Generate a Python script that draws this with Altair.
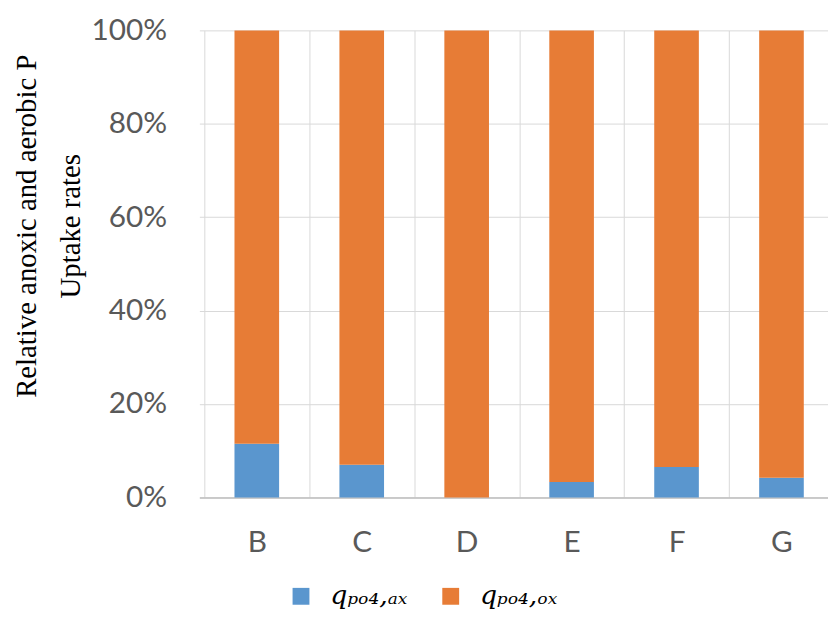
import json
import altair as alt
import pandas as pd

categories = ["B", "C", "D", "E", "F", "G"]
series_names = ["q\u209a\u2092\u2084,\u2090\u2093", "q\u209a\u2092\u2084,\u2092\u2093"]
anoxic_share = [0.115, 0.070, 0.0, 0.033, 0.065, 0.042]
aerobic_share = [0.885, 0.930, 1.0, 0.967, 0.935, 0.958]
y_ticks = [0, 0.2, 0.4, 0.6, 0.8, 1.0]
colors = ["#5A96CE", "#E77C36"]

n = len(categories)
rows = []
for i, (c, a, o) in enumerate(zip(categories, anoxic_share, aerobic_share)):
    rows.append({"cat": c, "pos": i + 0.5, "series": series_names[0], "value": a, "ord": 0})
    rows.append({"cat": c, "pos": i + 0.5, "series": series_names[1], "value": o, "ord": 1})
df = pd.DataFrame(rows)

x_values = [k / 2 for k in range(2 * n + 1)]
label_expr = "datum.value % 1 == 0 ? '' : " + json.dumps(categories) + "[floor(datum.value)]"

chart = alt.Chart(df).mark_bar(size=45).encode(
    x=alt.X(
        "pos:Q",
        scale=alt.Scale(domain=[0, n], range=[0, 645], nice=False, zero=False),
        axis=alt.Axis(
            title=None,
            values=x_values,
            labelExpr=label_expr,
            labelAngle=0,
            labelFont="Lato",
            labelFontSize=30,
            labelColor="#595959",
            labelPadding=31,
            labelOverlap=False,
            labelFlush=False,
            ticks=False,
            domainColor="#bfbfbf",
            domainWidth=1.5,
            grid=True,
            gridColor="#d9d9d9",
            gridWidth=1,
            gridOpacity={"condition": {"test": "datum.value % 1 == 0", "value": 1}, "value": 0},
        ),
    ),
    y=alt.Y(
        "value:Q",
        stack="zero",
        scale=alt.Scale(domain=[0, 1], nice=False),
        axis=alt.Axis(
            values=y_ticks,
            format=".0%",
            title=["Relative anoxic and aerobic P", "Uptake rates"],
            titleFont="Liberation Serif",
            titleFontSize=29,
            titleFontWeight="normal",
            titleColor="#000000",
            titleLineHeight=44,
            titleAngle=270,
            titleAlign="center",
            titleBaseline="alphabetic",
            titleX=-165,
            titleY=197,
            labelFont="Lato",
            labelFontSize=30,
            labelColor="#595959",
            labelPadding=33,
            ticks=False,
            domain=False,
            grid=True,
            gridColor="#d9d9d9",
            gridWidth=1,
        ),
    ),
    color=alt.Color(
        "series:N",
        sort=series_names,
        scale=alt.Scale(domain=series_names, range=colors),
        legend=alt.Legend(
            title=None,
            orient="none",
            direction="horizontal",
            legendX=89,
            legendY=557,
            symbolType="square",
            symbolSize=289,
            symbolStrokeWidth=0,
            symbolOpacity=1,
            labelFont="DejaVu Serif",
            labelFontStyle="italic",
            labelFontSize=27,
            labelColor="#000000",
            labelOffset=16,
            columnPadding=30,
        ),
    ),
    order=alt.Order("ord:Q"),
).properties(
    width=634,
    height=471,
    autosize=alt.AutoSizeParams(type="none"),
    padding={"left": 193, "top": 20, "right": 0, "bottom": 114},
).configure_view(strokeWidth=0)

chart.save("out.html", embed_options={"renderer": "svg", "actions": False})
